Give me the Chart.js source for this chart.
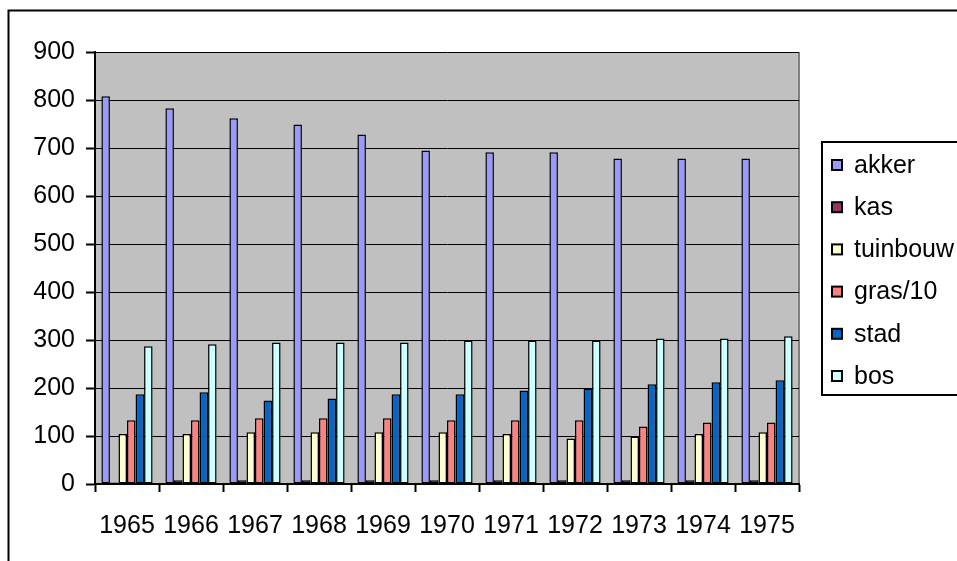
<!DOCTYPE html>
<html>
<head>
<meta charset="utf-8">
<script src="https://cdn.jsdelivr.net/npm/chart.js@4/dist/chart.umd.min.js"></script>
<style>
  html, body { margin: 0; padding: 0; background: #ffffff; }
  canvas { display: block; }
</style>
</head>
<body>
<canvas id="chart" width="957" height="561"></canvas>
<script>
const years = ["1965", "1966", "1967", "1968", "1969", "1970", "1971", "1972", "1973", "1974", "1975"];

const akker = [808, 783, 762, 749, 728, 695, 691, 691, 678, 678, 678];
const kas = [3, 8, 8, 8, 8, 8, 8, 8, 8, 8, 8];
const tuinbouw = [104, 104, 108, 108, 108, 108, 104, 95, 99, 104, 108];
const gras10 = [133, 133, 137, 137, 137, 133, 133, 133, 120, 128, 128];
const stad = [187, 191, 174, 178, 187, 187, 195, 199, 208, 212, 216];
const bos = [287, 291, 295, 295, 295, 299, 299, 299, 303, 303, 308];

const seriesNames = ["akker", "kas", "tuinbouw", "gras/10", "stad", "bos"];
const seriesColors = ["#9999ff", "#993366", "#ffffcc", "#ff8080", "#0066cc", "#ccffff"];

const FONT = "'Liberation Sans', Arial, sans-serif";
const FONT_SIZE = 25;

// plot background, outer frame and the boxed legend on the right
const frame = {
  id: "frame",
  beforeDraw(chart) {
    const { ctx, chartArea } = chart;
    ctx.save();
    ctx.strokeStyle = "#000000";
    ctx.lineWidth = 2;
    ctx.strokeRect(8.5, 10.5, 2000, 2000);
    ctx.fillStyle = "#c0c0c0";
    ctx.fillRect(chartArea.left, chartArea.top, chartArea.right - chartArea.left, chartArea.bottom - chartArea.top);
    ctx.strokeStyle = "#808080";
    ctx.beginPath();
    ctx.moveTo(chartArea.right, chartArea.top);
    ctx.lineTo(chartArea.right, chartArea.bottom);
    ctx.stroke();
    ctx.restore();
  },
  afterDraw(chart) {
    const { ctx } = chart;
    ctx.save();
    ctx.strokeStyle = "#000000";
    ctx.lineWidth = 2;
    ctx.strokeRect(822, 142, 400, 253);
    ctx.font = `${FONT_SIZE}px ${FONT}`;
    ctx.textBaseline = "middle";
    ctx.textAlign = "left";
    chart.data.datasets.forEach((ds, i) => {
      const y = 165 + i * 42.2;
      ctx.fillStyle = ds.backgroundColor;
      ctx.fillRect(832, y - 5, 10, 10);
      ctx.lineWidth = 2;
      ctx.strokeStyle = "#000000";
      ctx.strokeRect(832, y - 5, 10, 10);
      ctx.fillStyle = "#000000";
      ctx.fillText(ds.label, 854, y + 1);
    });
    ctx.restore();
  }
};

const seriesData = [akker, kas, tuinbouw, gras10, stad, bos];

new Chart(document.getElementById("chart"), {
  type: "bar",
  data: {
    labels: years,
    datasets: seriesData.map((values, i) => ({
      label: seriesNames[i],
      data: values,
      backgroundColor: seriesColors[i],
      borderColor: "#000000",
      borderWidth: 1.5,
      borderSkipped: false,
      categoryPercentage: 0.8,
      barPercentage: 1.0
    }))
  },
  options: {
    responsive: false,
    animation: false,
    layout: {
      padding: { left: 0, top: 52, right: 158, bottom: 0 }
    },
    plugins: {
      legend: { display: false },
      tooltip: { enabled: false }
    },
    scales: {
      x: {
        afterFit(scale) { scale.height = 77; },
        grid: {
          drawOnChartArea: false,
          drawTicks: true,
          tickLength: 8,
          tickColor: "#000000",
          tickWidth: 2
        },
        border: { color: "#000000", width: 2 },
        ticks: {
          color: "#000000",
          padding: 19,
          maxRotation: 0,
          font: { family: FONT, size: FONT_SIZE }
        }
      },
      y: {
        min: 0,
        max: 900,
        afterFit(scale) { scale.width = 95; },
        grid: {
          color: "#000000",
          lineWidth: 1,
          drawTicks: true,
          tickLength: 9,
          tickColor: "#000000",
          tickWidth: 2
        },
        border: { color: "#000000", width: 2 },
        ticks: {
          stepSize: 100,
          color: "#000000",
          padding: 11,
          font: { family: FONT, size: FONT_SIZE }
        }
      }
    }
  },
  plugins: [frame]
});
</script>
</body>
</html>
